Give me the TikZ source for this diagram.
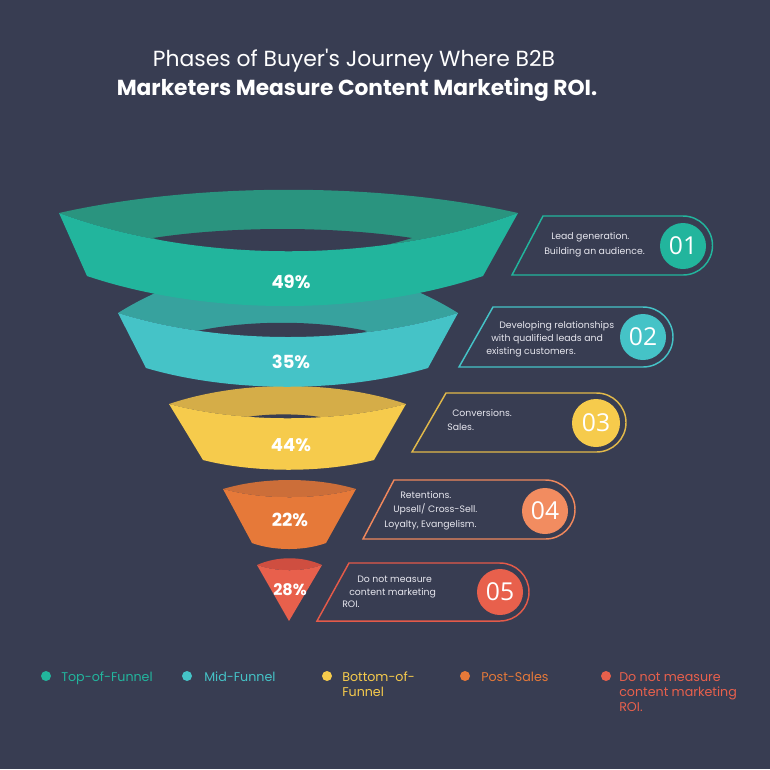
\documentclass[tikz,border=0pt]{standalone}
\usepackage{fontspec}
\setmainfont{Poppins}[Ligatures=TeXOff]
\newfontfamily\numfont{Open Sans}
\definecolor{bg}{HTML}{383D52}
\definecolor{txtc}{HTML}{E6E6EE}
\definecolor{cAt}{HTML}{2A947F}\definecolor{cA}{HTML}{22B59D}
\definecolor{cBt}{HTML}{37A29E}\definecolor{cB}{HTML}{45C3C7}
\definecolor{cCt}{HTML}{D5AD48}\definecolor{cC}{HTML}{F6CB4C}
\definecolor{cDt}{HTML}{CC6E39}\definecolor{cD}{HTML}{E67939}
\definecolor{cEt}{HTML}{CF4E40}\definecolor{cE}{HTML}{E8604C}
\definecolor{bC}{HTML}{E1B94A}\definecolor{bD}{HTML}{F0875C}
\definecolor{nD}{HTML}{F28C60}\definecolor{bE}{HTML}{E45A49}
\begin{document}
\begin{tikzpicture}[x=0.75pt,y=-0.75pt,
 pct/.style={text=white,font=\fontsize{13.5}{16}\selectfont\bfseries,inner sep=0},
 boxtxt/.style={text=txtc,font=\fontsize{7}{8}\selectfont,anchor=base west,inner sep=0},
 num/.style={circle,minimum size=34.5pt,inner sep=0,text=white,font=\numfont\fontsize{18.5}{20}\selectfont},
 boxline/.style={line width=1.1pt},
 legdot/.style={circle,minimum size=7.5pt,inner sep=0},
 legtxt/.style={font=\fontsize{9.5}{11}\selectfont,anchor=base west,inner sep=0},
]
\fill[bg] (0,0) rectangle (770,769);
\useasboundingbox (0,0) rectangle (770,769);

% title
\node[text=white,font=\fontsize{16.4}{19}\selectfont,anchor=base,inner sep=0] (t1) at (354,66) {Phases of Buyer's Journey Where B2B};
\node[text=white,font=\fontsize{16.3}{19}\selectfont\bfseries,anchor=base,inner sep=0] (t2) at (357,95) {Marketers Measure Content Marketing ROI.};

% funnel 5
\fill[cEt] (257,565) .. controls (277,556) and (302,556) .. (322,565) .. controls (302,572) and (277,572) .. (257,565);
\fill[cE] (257,565) .. controls (277,572) and (302,572) .. (322,565) -- (289,621) -- cycle;
\node[pct,font=\fontsize{12}{14}\selectfont\bfseries] (p5) at (290,590) {28\%};

% funnel 4
\fill[cDt] (223,489) .. controls (263,477) and (316,477) .. (356,489) .. controls (316,500) and (263,500) .. (223,489);
\fill[cD] (223,489) .. controls (263,500) and (316,500) .. (356,489) -- (326,543) .. controls (304,551) and (274,551) .. (252,543) -- cycle;
\node[pct] (p4) at (290,520) {22\%};

% funnel 3
\fill[cCt] (169,404) .. controls (240,380) and (335,380) .. (406,404) .. controls (335,423) and (240,423) .. (169,404);
\fill[bg] (247,417) .. controls (269,413.5) and (298,413.5) .. (320,417) .. controls (298,425) and (269,425) .. (247,417);
\fill[cC] (169,404) .. controls (240,423) and (335,423) .. (406,404) -- (374,460) .. controls (323,473) and (254,473) .. (203,460) -- cycle;
\node[pct] (p3) at (291,445) {44\%};

% funnel 2
\fill[cBt] (118,313) .. controls (220,249) and (356,249) .. (458,313) .. controls (356,345) and (220,345) .. (118,313);
\fill[bg] (197,331) .. controls (248,320) and (316,320) .. (367,331) .. controls (316,350) and (248,350) .. (197,331);
\fill[cB] (118,313) .. controls (220,345) and (356,345) .. (458,313) -- (428,368) .. controls (343,393) and (231,393) .. (146,368) -- cycle;
\node[pct] (p2) at (291,362) {35\%};

% funnel 1
\fill[cAt] (59,213) .. controls (197,182) and (380,182) .. (518,213) .. controls (380,264) and (197,264) .. (59,213);
\fill[bg] (153,238) .. controls (231,226) and (334,226) .. (412,238) .. controls (334,262) and (231,262) .. (153,238);
\fill[cA] (59,213) .. controls (197,264) and (380,264) .. (518,213) -- (483,276) .. controls (364,316) and (206,316) .. (87,276) -- cycle;
\node[pct] (p1) at (291,282) {49\%};

% callout 1
\draw[boxline,cA] (512,275) -- (543,216) -- (683,216) arc[start angle=-90,end angle=90,radius=29.5] -- cycle;
\node[num,fill=cA] (n1) at (683,246) {01};
\node[boxtxt] (a1) at (551,239) {Lead generation.};
\node[boxtxt] (a2) at (544,254) {Building an audience.};

% callout 2
\draw[boxline,cB] (459,367) -- (493,307) -- (643,307) arc[start angle=-90,end angle=90,radius=30] -- cycle;
\node[num,fill=cB] (n2) at (643,337) {02};
\node[boxtxt] (b1) at (499,328) {Developing relationships};
\node[boxtxt] (b2) at (491,341) {with qualified leads and};
\node[boxtxt] (b3) at (486,354) {existing customers.};

% callout 3
\draw[boxline,bC] (412,452) -- (446,393) -- (596.5,393) arc[start angle=-90,end angle=90,radius=29.5] -- cycle;
\node[num,fill=cC,minimum size=36pt] (n3) at (596,423) {03};
\node[boxtxt] (c1) at (452,416) {Conversions.};
\node[boxtxt] (c2) at (447,430) {Sales.};

% callout 4
\draw[boxline,bD] (363,539) -- (394,480) -- (545.5,480) arc[start angle=-90,end angle=90,radius=29.5] -- cycle;
\node[num,fill=nD] (n4) at (545,511) {04};
\node[boxtxt] (d1) at (400,498) {Retentions.};
\node[boxtxt] (d2) at (393,512) {Upsell/ Cross-Sell.};
\node[boxtxt] (d3) at (384,527) {Loyalty, Evangelism.};

% callout 5
\draw[boxline,bE] (317,621) -- (349,563) -- (500,563) arc[start angle=-90,end angle=90,radius=29] -- cycle;
\node[num,fill=cE] (n5) at (500,592) {05};
\node[boxtxt] (e1) at (357,582) {Do not measure};
\node[boxtxt] (e2) at (349,595) {content marketing};
\node[boxtxt] (e3) at (342,607) {ROI.};

% legend
\node[legdot,fill=cA] (l1) at (46,676) {};
\node[legtxt,text=cA] (lt1) at (61,681) {Top-of-Funnel};
\node[legdot,fill=cB] (l2) at (187,676) {};
\node[legtxt,text=cB] (lt2) at (204,681) {Mid-Funnel};
\node[legdot,fill=cC] (l3) at (327,676) {};
\node[legtxt,text=cC] (lt3) at (342,681) {Bottom-of-};
\node[legtxt,text=cC] (lt3b) at (342,696) {Funnel};
\node[legdot,fill=cD] (l4) at (465,676) {};
\node[legtxt,text=cD] (lt4) at (481,681) {Post-Sales};
\node[legdot,fill=cE] (l5) at (606,676) {};
\node[legtxt,text=cE] (lt5) at (619,681) {Do not measure};
\node[legtxt,text=cE] (lt5b) at (619,696) {content marketing};
\node[legtxt,text=cE] (lt5c) at (619,711) {ROI.};
\end{tikzpicture}
\end{document}
